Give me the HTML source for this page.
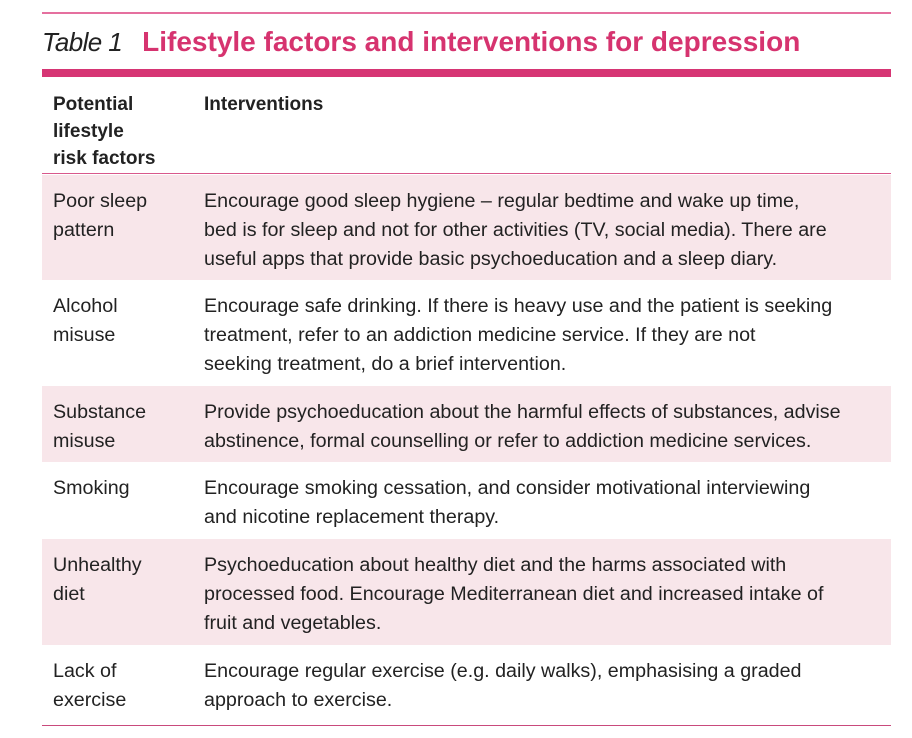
<!DOCTYPE html>
<html><head><meta charset="utf-8">
<style>
body{margin:0;width:912px;height:738px;background:#fff;position:relative;overflow:hidden;font-family:"Liberation Sans",sans-serif;color:#222;}
.abs{position:absolute;}
.line{position:absolute;left:42px;width:849px;}
.row{position:absolute;left:42px;width:849px;box-sizing:border-box;font-size:19.7px;line-height:29px;}
.pink{background:#f8e6ea;}
.c1{position:absolute;left:11px;width:140px;}
.c2{position:absolute;left:162px;width:685px;white-space:nowrap;}
</style></head><body>
<div class="line" style="top:12px;height:2px;background:#e5709f;"></div>
<div class="abs" style="left:42px;top:26px;line-height:32px;white-space:nowrap;">
<span style="font-style:italic;color:#222;letter-spacing:-0.6px;font-size:26px;">Table 1</span><span style="color:#d6336f;font-weight:bold;margin-left:20px;font-size:28px;">Lifestyle factors and interventions for depression</span></div>
<div class="line" style="top:69px;height:8px;background:#d63574;"></div>
<div class="row" style="top:91px;height:83px;font-weight:bold;line-height:27px;font-size:19px;">
<div class="c1">Potential<br>lifestyle<br>risk factors</div>
<div class="c2">Interventions</div></div>
<div class="line" style="top:173px;height:1px;background:#d9588c;"></div>

<div class="row pink" style="top:175px;height:105px;">
<div class="c1" style="top:12px">Poor sleep<br>pattern</div>
<div class="c2" style="top:12px">Encourage good sleep hygiene – regular bedtime and wake up time,<br>bed is for sleep and not for other activities (TV, social media). There are<br>useful apps that provide basic psychoeducation and a sleep diary.</div></div>

<div class="row" style="top:280px;height:106px;">
<div class="c1" style="top:12px">Alcohol<br>misuse</div>
<div class="c2" style="top:12px">Encourage safe drinking. If there is heavy use and the patient is seeking<br>treatment, refer to an addiction medicine service. If they are not<br>seeking treatment, do a brief intervention.</div></div>

<div class="row pink" style="top:386px;height:76px;">
<div class="c1" style="top:12px">Substance<br>misuse</div>
<div class="c2" style="top:12px">Provide psychoeducation about the harmful effects of substances, advise<br>abstinence, formal counselling or refer to addiction medicine services.</div></div>

<div class="row" style="top:462px;height:77px;">
<div class="c1" style="top:12px">Smoking</div>
<div class="c2" style="top:12px">Encourage smoking cessation, and consider motivational interviewing<br>and nicotine replacement therapy.</div></div>

<div class="row pink" style="top:539px;height:106px;">
<div class="c1" style="top:12px">Unhealthy<br>diet</div>
<div class="c2" style="top:12px">Psychoeducation about healthy diet and the harms associated with<br>processed food. Encourage Mediterranean diet and increased intake of<br>fruit and vegetables.</div></div>

<div class="row" style="top:645px;height:80px;">
<div class="c1" style="top:12px">Lack of<br>exercise</div>
<div class="c2" style="top:12px">Encourage regular exercise (e.g. daily walks), emphasising a graded<br>approach to exercise.</div></div>
<div class="line" style="top:725px;height:1px;background:#c94a7c;"></div>
</body></html>
